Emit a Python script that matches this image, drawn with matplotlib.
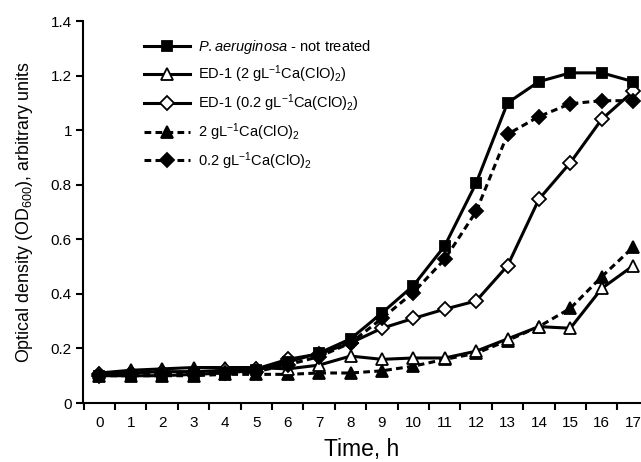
import matplotlib
matplotlib.use("Agg")
import matplotlib.pyplot as plt
import numpy as np

plt.rcParams["font.family"] = ["Liberation Sans", "DejaVu Sans"]
plt.rcParams["mathtext.fontset"] = "custom"
plt.rcParams["mathtext.rm"] = "Liberation Sans"
plt.rcParams["mathtext.it"] = "Liberation Sans:italic"

hours = list(range(18))

not_treated = [0.10, 0.10, 0.10, 0.105, 0.11, 0.12, 0.15, 0.183, 0.235, 0.33, 0.43, 0.576, 0.806, 1.10, 1.178, 1.21, 1.21, 1.178]
ed1_2g = [0.11, 0.12, 0.125, 0.13, 0.13, 0.13, 0.125, 0.139, 0.172, 0.16, 0.165, 0.165, 0.19, 0.235, 0.28, 0.274, 0.42, 0.503]
ed1_02g = [0.105, 0.11, 0.115, 0.115, 0.12, 0.125, 0.16, 0.18, 0.22, 0.274, 0.31, 0.344, 0.374, 0.503, 0.747, 0.881, 1.04, 1.142]
ca_2g = [0.10, 0.10, 0.10, 0.10, 0.105, 0.105, 0.105, 0.11, 0.11, 0.118, 0.135, 0.16, 0.182, 0.229, 0.28, 0.347, 0.463, 0.571]
ca_02g = [0.10, 0.105, 0.105, 0.11, 0.11, 0.115, 0.14, 0.17, 0.22, 0.31, 0.405, 0.527, 0.702, 0.985, 1.05, 1.097, 1.108, 1.108]

labels = [
    r"$\it{P. aeruginosa}$ - not treated",
    r"ED-1 (2 gL$^{-1}$Ca(ClO)$_2$)",
    r"ED-1 (0.2 gL$^{-1}$Ca(ClO)$_2$)",
    r"2 gL$^{-1}$Ca(ClO)$_2$",
    r"0.2 gL$^{-1}$Ca(ClO)$_2$",
]

fig = plt.figure(figsize=(6.41, 4.62), dpi=100)
ax = fig.add_axes([0.1295, 0.1277, 0.8705, 0.8268])

common = dict(color="black", linewidth=2.2, markeredgecolor="black", markeredgewidth=1.3)
dash = (0, (2.2, 1.4))
ax.plot(hours, ca_2g, linestyle=dash, marker="^", markersize=8, markerfacecolor="black", label=labels[3], zorder=3, **common)
ax.plot(hours, ed1_2g, linestyle="-", marker="^", markersize=8, markerfacecolor="white", label=labels[1], zorder=4, **common)
ax.plot(hours, ed1_02g, linestyle="-", marker="D", markersize=6.8, markerfacecolor="white", label=labels[2], zorder=4, **common)
ax.plot(hours, ca_02g, linestyle=dash, marker="D", markersize=6.8, markerfacecolor="black", label=labels[4], zorder=5, **common)
ax.plot(hours, not_treated, linestyle="-", marker="s", markersize=7.2, markerfacecolor="black", label=labels[0], zorder=6, **common)

ax.set_xlim(-0.52, 17.25)
ax.set_ylim(0, 1.4)
# ticks sit between hours, labels sit on the hours
ax.set_xticks(np.arange(-0.5, 17.0, 1.0))
ax.set_xticklabels([])
ax.set_xticks(hours, minor=True)
ax.set_xticklabels([str(h) for h in hours], minor=True)
ax.tick_params(axis="x", which="minor", length=0, labelsize=11, pad=9)
ax.tick_params(axis="x", which="major", direction="out", length=5, width=1.5)
ax.set_yticks([0, 0.2, 0.4, 0.6, 0.8, 1.0, 1.2, 1.4])
ax.set_yticklabels(["0", "0.2", "0.4", "0.6", "0.8", "1", "1.2", "1.4"])
ax.tick_params(axis="y", direction="out", length=5, width=1.5, labelsize=11, pad=3)
for side in ("top", "right"):
    ax.spines[side].set_visible(False)
for side in ("left", "bottom"):
    ax.spines[side].set_linewidth(1.5)

ax.set_xlabel("Time, h", fontsize=16.5, labelpad=6)
ax.set_ylabel(r"Optical density (OD$_{600}$), arbitrary units", fontsize=12.9, labelpad=11)

handles, labs = ax.get_legend_handles_labels()
order = [labs.index(l) for l in labels]
ax.legend([handles[i] for i in order], [labs[i] for i in order], loc="upper left",
          bbox_to_anchor=(0.085, 0.99), frameon=False, fontsize=10.5, handlelength=3.2,
          handletextpad=0.5, labelspacing=0.5)

fig.savefig("out.png", dpi=100)
